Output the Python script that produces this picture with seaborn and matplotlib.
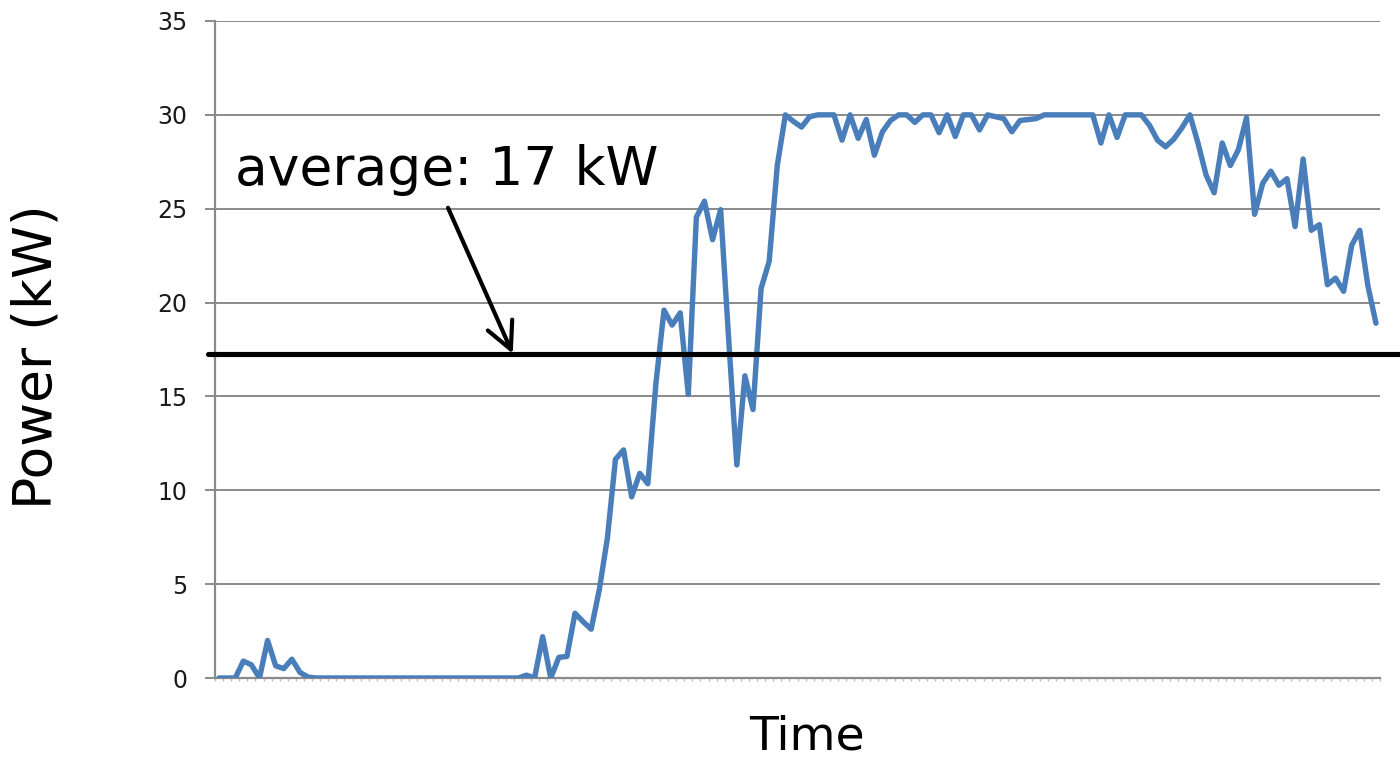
import numpy as np
import pandas as pd
import matplotlib
matplotlib.use("Agg")
import matplotlib.pyplot as plt
from matplotlib.ticker import MultipleLocator
import seaborn as sns

# Power readings (kW) at equally spaced time steps
start_kw = [0, 0, 0, 0.9, 0.7, 0, 2.0, 0.65, 0.5, 1.0, 0.3, 0.05]
idle_kw = [0] * 26
ramp_kw = [0.15, 0, 2.2, 0, 1.1, 1.15, 3.45, 3.0, 2.6, 4.7, 7.45, 11.65,
           12.15, 9.65, 10.9, 10.35, 15.7, 19.6, 18.8, 19.45, 15.1, 24.55,
           25.4, 23.35, 24.95, 18.0, 11.35, 16.1, 14.3, 20.75, 22.2, 27.3]
peak_kw = [30.0, 29.65, 29.35, 29.9, 30.0, 30.0, 30.0, 28.65, 30.0, 28.75,
           29.75, 27.85, 29.1, 29.7, 30.0, 30.0, 29.6, 30.0, 30.0, 29.05,
           30.0, 28.85, 30.0, 30.0, 29.2, 30.0, 29.9, 29.8, 29.1, 29.7,
           29.75, 29.8, 30.0, 30.0, 30.0, 30.0, 30.0, 30.0, 30.0, 28.5,
           30.0, 28.8, 30.0, 30.0, 30.0, 29.45, 28.65, 28.3, 28.7, 29.3,
           30.0]
decline_kw = [28.5, 26.8, 25.85, 28.5, 27.3, 28.15, 29.85, 24.7, 26.35,
              27.0, 26.25, 26.6, 24.05, 27.65, 23.85, 24.15, 20.95, 21.3,
              20.6, 23.05, 23.85, 20.9, 18.9]

power_kw = start_kw + idle_kw + ramp_kw + peak_kw + decline_kw
y_ticks = [0, 5, 10, 15, 20, 25, 30, 35]

df = pd.DataFrame({"step": np.arange(len(power_kw)), "power": power_kw})
average_kw = float(np.mean(power_kw))

sns.set_theme(style="white")
plt.rcParams["font.family"] = ["DejaVu Sans"]

fig = plt.figure(figsize=(14, 7.58), dpi=100)
ax = fig.add_axes([215 / 1400, 1 - 678 / 758, 1165 / 1400, 657 / 758])

grid_grey = "#8a8a8a"
line_blue = "#4a7ebb"

sns.lineplot(data=df, x="step", y="power", ax=ax, color=line_blue,
             linewidth=3.9, solid_joinstyle="round", solid_capstyle="round",
             zorder=3)

n = len(power_kw)
ax.set_xlim(-0.5, n - 0.5)
ax.set_ylim(0, 35)
ax.set_yticks(y_ticks)
ax.set_yticklabels([str(t) for t in y_ticks])
ax.yaxis.grid(True, color=grid_grey, linewidth=1.4)
ax.set_axisbelow(True)

# category boundary marks along the time axis
ax.set_xticks([])
ax.xaxis.set_minor_locator(MultipleLocator(1, offset=0.5))
ax.tick_params(axis="x", which="minor", bottom=True, direction="out",
               length=2.5, width=1, color="#bdbdbd")
ax.tick_params(axis="y", which="major", left=True, direction="out",
               length=7, width=1.4, color=grid_grey, labelsize=17,
               pad=13, labelcolor="#1a1a1a")

for side in ("top", "right"):
    ax.spines[side].set_visible(False)
for side in ("left", "bottom"):
    ax.spines[side].set_color(grid_grey)
    ax.spines[side].set_linewidth(1.6)

# average line spanning the plot width
ax.axhline(average_kw, xmin=-0.006, xmax=1.02, color="black",
           linewidth=3.7, clip_on=False, zorder=4)

ax.text(1.97, 26.27, f"average: {average_kw:.0f} kW", fontsize=38.5,
        ha="left", va="baseline", color="black")
ax.annotate("", xy=(36.3, average_kw), xytext=(28.3, 25.05),
            arrowprops=dict(arrowstyle="->,head_length=0.6,head_width=0.3",
                            color="black", lw=3.0, mutation_scale=32,
                            shrinkA=0, shrinkB=0))

ax.set_xlabel("Time", fontsize=34, color="black", va="baseline")
ax.xaxis.set_label_coords(0.508, -0.1095)
ax.set_ylabel("Power (kW)", fontsize=38.5, color="black", va="baseline")
ax.yaxis.set_label_coords(-0.140, 0.489)

fig.savefig("out.png", dpi=100)
